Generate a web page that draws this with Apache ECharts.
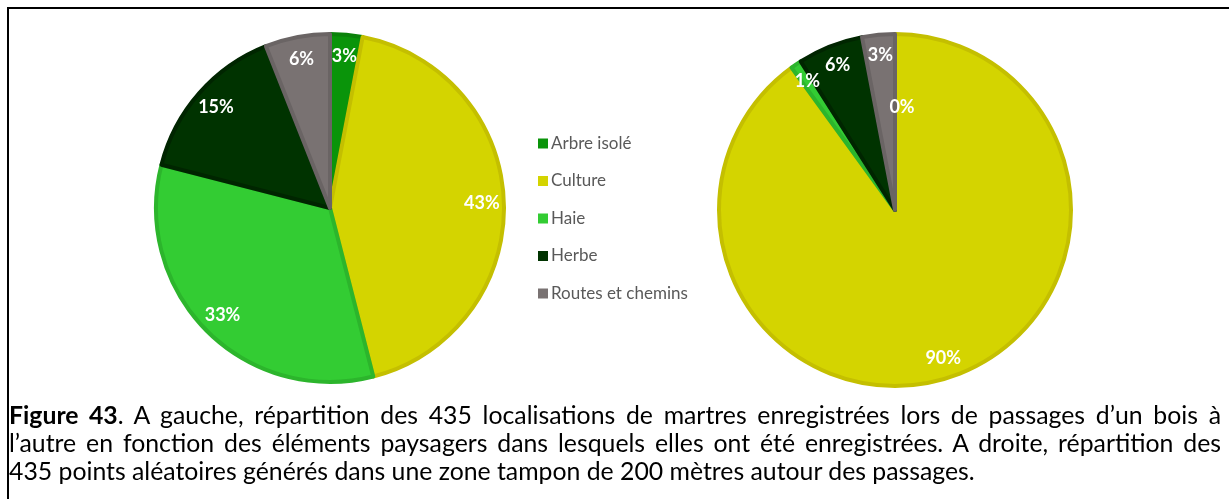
<!DOCTYPE html>
<html><head><meta charset="utf-8">
<script src="https://cdn.jsdelivr.net/npm/echarts@6/dist/echarts.min.js"></script>
<style>
html,body{margin:0;padding:0;background:#fff;}
#wrap{position:relative;width:1229px;height:499px;overflow:hidden;background:#fff;}
#chart{position:absolute;left:0;top:0;width:1229px;height:499px;}
#frame{position:absolute;left:7px;top:7px;width:1240px;height:600px;border-left:2px solid #000;border-top:2px solid #000;box-sizing:border-box;}
#caption{position:absolute;left:9px;width:1212px;top:401px;font-family:Lato,"Open Sans",sans-serif;font-size:21px;line-height:28px;color:#000;}
#caption div{height:28px;overflow:visible;}
.j{text-align:justify;text-align-last:justify;}
#measure{position:absolute;visibility:hidden;white-space:nowrap;font-family:Lato,"Open Sans",sans-serif;}
</style></head>
<body>
<div id="wrap">
  <div id="chart"></div>
  <div id="frame"></div>
  <div id="caption"></div>
  <span id="measure"></span>
</div>
<script>
const categories = ['Arbre isolé', 'Culture', 'Haie', 'Herbe', 'Routes et chemins'];
const leftValues = [3, 43, 33, 15, 6];
const rightValues = [0, 90, 1, 6, 3];
const captionLines = [
  [{b:'Figure 43'}, '. A gauche, répartition des 435 localisations de martres enregistrées lors de passages d’un bois à'],
  ['l’autre en fonction des éléments paysagers dans lesquels elles ont été enregistrées. A droite, répartition des'],
  ['435 points aléatoires générés dans une zone tampon de 200 mètres autour des passages.']
];

const fills = ['#0a940a', '#d4d400', '#33cc33', '#003300', '#797272'];
const borders = ['#0a820a', '#c4bf00', '#2cb52c', '#002500', '#6a6464'];

function mainData(values) {
  return categories.map((name, i) => ({
    name, value: values[i],
    itemStyle: { color: fills[i], borderColor: borders[i], borderWidth: values[i] === 0 ? 0 : 4 },
    label: values[i] === 0 ? { show: true, offset: [7, -12] } : { show: false }
  }));
}
function overlayData(values) {
  return categories.map((name, i) => ({
    name, value: values[i],
    label: { show: values[i] !== 0 }
  }));
}
const labelStyle = {
  position: 'inside', color: '#fff', fontFamily: 'Lato', fontWeight: 'bold', fontSize: 18,
  formatter: p => p.value + '%'
};
function mainSeries(center, r, values) {
  return {
    type: 'pie', center, radius: r, startAngle: 90, clockwise: true,
    data: mainData(values), label: labelStyle, labelLine: { show: false },
    emphasis: { disabled: true }, silent: true, animation: false
  };
}
function overlaySeries(center, r0, r, values) {
  return {
    type: 'pie', center, radius: [r0, r], startAngle: 90, clockwise: true,
    data: overlayData(values), label: labelStyle, labelLine: { show: false },
    itemStyle: { color: 'rgba(0,0,0,0)', borderWidth: 0 },
    emphasis: { disabled: true }, silent: true, animation: false, legendHoverLink: false
  };
}

const chart = echarts.init(document.getElementById('chart'), null, { renderer: 'canvas' });
chart.setOption({
  backgroundColor: '#fff',
  animation: false,
  legend: {
    data: categories, orient: 'vertical', left: 533, top: 130,
    itemWidth: 10, itemHeight: 10, itemGap: 20.5, icon: 'rect',
    itemStyle: { borderWidth: 0 },
    textStyle: { color: '#595959', fontFamily: 'Lato', fontSize: 17, lineHeight: 15, padding: [0, 0, 0, -2] },
    selectedMode: false
  },
  series: [
    mainSeries([330, 208], 174, leftValues),
    mainSeries([895, 210], 176, rightValues),
    overlaySeries([330, 208], 124, 174, leftValues),
    overlaySeries([895, 210], 130, 176, rightValues)
  ]
});

// caption
const cap = document.getElementById('caption');
captionLines.forEach((parts, i) => {
  const d = document.createElement('div');
  if (i < captionLines.length - 1) d.className = 'j';
  parts.forEach(p => {
    if (typeof p === 'string') d.appendChild(document.createTextNode(p));
    else { const s = document.createElement('b'); s.textContent = p.b; d.appendChild(s); }
  });
  cap.appendChild(d);
});
// fit font so that the last (unjustified) line spans its reference width
const m = document.getElementById('measure');
m.style.fontSize = '21px';
m.textContent = captionLines[2][0];
const w = m.getBoundingClientRect().width;
const fs = 21 * 966 / w;
cap.style.fontSize = fs.toFixed(2) + 'px';
</script>
</body></html>
